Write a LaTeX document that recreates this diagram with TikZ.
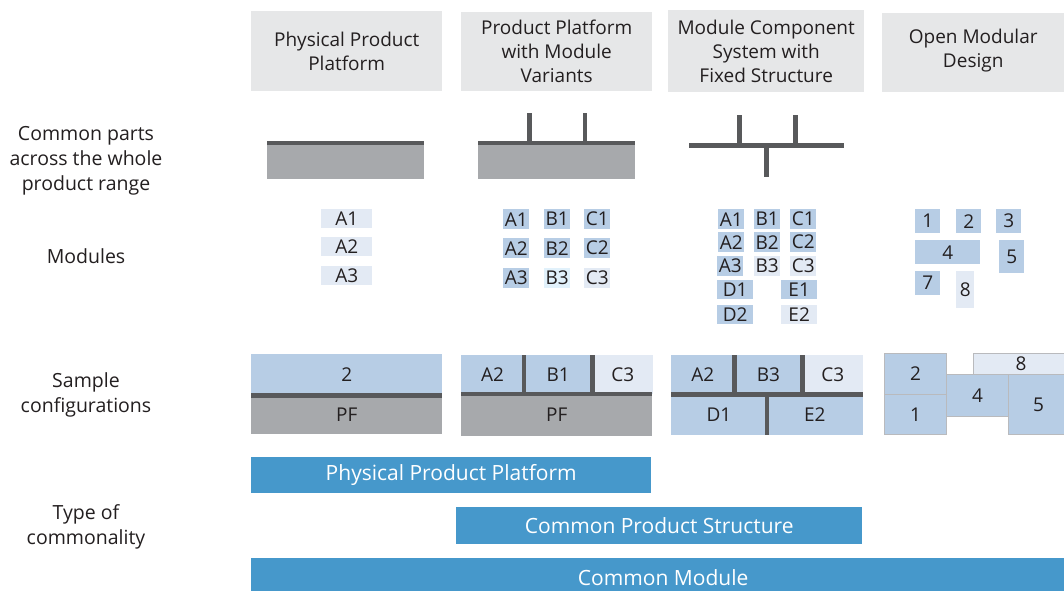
\documentclass[tikz,border=0pt]{standalone}
\usepackage{fontspec}
\setmainfont{Open Sans}
\definecolor{hdrgray}{HTML}{E6E7E8}
\definecolor{pfgray}{HTML}{A7A9AC}
\definecolor{bargray}{HTML}{58595B}
\definecolor{modblue}{HTML}{B7CDE5}
\definecolor{modlight}{HTML}{E3EAF4}
\definecolor{modpale}{HTML}{E1F1FB}
\definecolor{typeblue}{HTML}{4698CB}
\definecolor{txtgray}{HTML}{231F20}
\tikzset{
  base/.style={rectangle, inner sep=0pt, anchor=north west, text=txtgray,
    font=\fontsize{19}{24}\selectfont},
  header/.style={base, fill=hdrgray, align=center},
  rowlabel/.style={text=txtgray, align=center, font=\fontsize{19.5}{25}\selectfont},
  mod/.style={base, fill=modblue},
  modl/.style={base, fill=modlight},
  modp/.style={base, fill=modpale},
  pf/.style={base, fill=pfgray},
  piece/.style={base, fill=modblue, draw=pfgray!80, line width=1pt},
  typebar/.style={base, fill=typeblue, text=white, font=\fontsize{21}{24}\selectfont},
  spine/.style={draw=bargray, line width=4.5pt},
  wh/.style 2 args={minimum width=#1, minimum height=#2},
}

\begin{document}
\begin{tikzpicture}[x=1pt, y=-1pt]
\useasboundingbox[fill=white] (0,0) rectangle (1064,590);

% row labels
\node[rowlabel] (lcommon) at (86,161) {Common parts\\across the whole\\product range};
\node[rowlabel] (lmods) at (86,256) {Modules};
\node[rowlabel] (lsample) at (86,395) {Sample\\configurations};
\node[rowlabel] (ltype) at (86,527) {Type of\\commonality};

% column headers
\node[header, wh={191}{80}] (h1) at (251,11) {Physical Product\\Platform};
\node[header, wh={191}{79}] (h2) at (461,12) {Product Platform\\with Module\\Variants};
\node[header, wh={196}{82}] (h3) at (668,10) {Module Component\\System with\\Fixed Structure};
\node[header, wh={182}{79}, text depth=9pt] (h4) at (882,13) {Open Modular\\Design};

% common parts
\fill[pfgray] (267,141) rectangle (424,179);
\draw[spine] (267,143) -- (424,143);
\fill[pfgray] (478,141) rectangle (635,179);
\draw[spine] (478,143) -- (635,143);
\draw[spine] (529.5,113) -- (529.5,143);
\draw[spine] (585,113) -- (585,143);
\draw[spine] (689,145.5) -- (844,145.5);
\draw[spine] (739.5,115) -- (739.5,145.5);
\draw[spine] (795.5,115) -- (795.5,145.5);
\draw[spine] (766.5,145.5) -- (766.5,177);

% modules: physical product platform
\node[modl, wh={51}{19}] (pA1) at (321,209) {A1};
\node[modl, wh={51}{19}] (pA2) at (321,237) {A2};
\node[modl, wh={51}{19}] (pA3) at (321,266) {A3};

% modules: platform with variants
\foreach \r/\y in {1/209, 2/238} {
  \node[mod, wh={26}{20}] (vA\r) at (503,\y) {A\r};
  \node[mod, wh={26}{20}] (vB\r) at (544,\y) {B\r};
  \node[mod, wh={26}{20}] (vC\r) at (584,\y) {C\r};
}
\node[mod, wh={26}{20}] (vA3) at (503,268) {A3};
\node[modp, wh={26}{20}] (vB3) at (544,268) {B3};
\node[modl, wh={26}{20}] (vC3) at (584,268) {C3};

% modules: component system
\foreach \r/\y in {1/209, 2/232} {
  \node[mod, wh={26}{20}] (sA\r) at (718,\y) {A\r};
  \node[mod, wh={26}{20}] (sB\r) at (754,\y) {B\r};
  \node[mod, wh={26}{20}] (sC\r) at (790,\y) {C\r};
}
\node[mod, wh={26}{20}] (sA3) at (717,256) {A3};
\node[modl, wh={26}{20}] (sB3) at (754,256) {B3};
\node[modl, wh={26}{20}] (sC3) at (790,256) {C3};
\node[mod, wh={36}{19}] (sD1) at (717,280) {D1};
\node[mod, wh={36}{19}] (sE1) at (781,280) {E1};
\node[mod, wh={36}{19}] (sD2) at (717,305) {D2};
\node[modl, wh={36}{19}] (sE2) at (781,305) {E2};

% modules: open design
\node[mod, wh={25}{24}] (o1) at (915,209) {1};
\node[mod, wh={25}{24}] (o2) at (956,209) {2};
\node[mod, wh={25}{24}] (o3) at (996,209) {3};
\node[mod, wh={65}{24}] (o4) at (915,240) {4};
\node[mod, wh={25}{33}] (o5) at (999,240) {5};
\node[mod, wh={25}{24}] (o7) at (915,271) {7};
\node[modl, wh={18}{37}] (o8) at (956,271) {8};

% sample configurations
\node[mod, wh={191}{41}] (c1top) at (251,354) {2};
\node[pf, wh={191}{39}] (c1pf) at (251,395) {PF};
\draw[spine] (c1top.south west) -- (c1top.south east);

\node[mod, wh={62.5}{39}] (c2a) at (461,355) {A2};
\node[mod, wh={68}{39}] (c2b) at (c2a.north east) {B1};
\node[modl, wh={60.5}{39}] (c2c) at (c2b.north east) {C3};
\node[pf, wh={191}{42}] (c2pf) at (461,394) {PF};
\draw[spine] (c2pf.north west) -- (c2pf.north east);
\draw[spine] (c2a.north east) -- (c2a.south east);
\draw[spine] (c2b.north east) -- (c2b.south east);

\node[mod, wh={63}{39.5}] (c3a) at (671,355) {A2};
\node[mod, wh={67.5}{39.5}] (c3b) at (c3a.north east) {B3};
\node[modl, wh={60.5}{39.5}] (c3c) at (c3b.north east) {C3};
\node[mod, wh={95.5}{40.5}] (c3d) at (671,394.5) {D1};
\node[mod, wh={95.5}{40.5}] (c3e) at (c3d.north east) {E2};
\draw[spine] (c3d.north west) -- (c3e.north east);
\draw[spine] (c3a.north east) -- (c3a.south east);
\draw[spine] (c3b.north east) -- (c3b.south east);
\draw[spine] (c3d.north east) -- (c3d.south east);

\node[piece, fill=modlight, wh={95}{21}] (c4p8) at (973,353) {8};
\node[piece, wh={62}{41}] (c4p2) at (884,353) {2};
\node[piece, wh={62}{40}] (c4p1) at (884,394) {1};
\node[piece, wh={62}{42}] (c4p4) at (946,374) {4};
\node[piece, wh={60}{60}] (c4p5) at (1008,374) {5};

% type of commonality
\node[typebar, wh={400}{36}] (tppp) at (251,457) {Physical Product Platform};
\node[typebar, wh={406}{37}] (tcps) at (456,507) {Common Product Structure};
\node[typebar, wh={824}{38}] (tcm) at (251,558) {Common Module};
\end{tikzpicture}
\end{document}
